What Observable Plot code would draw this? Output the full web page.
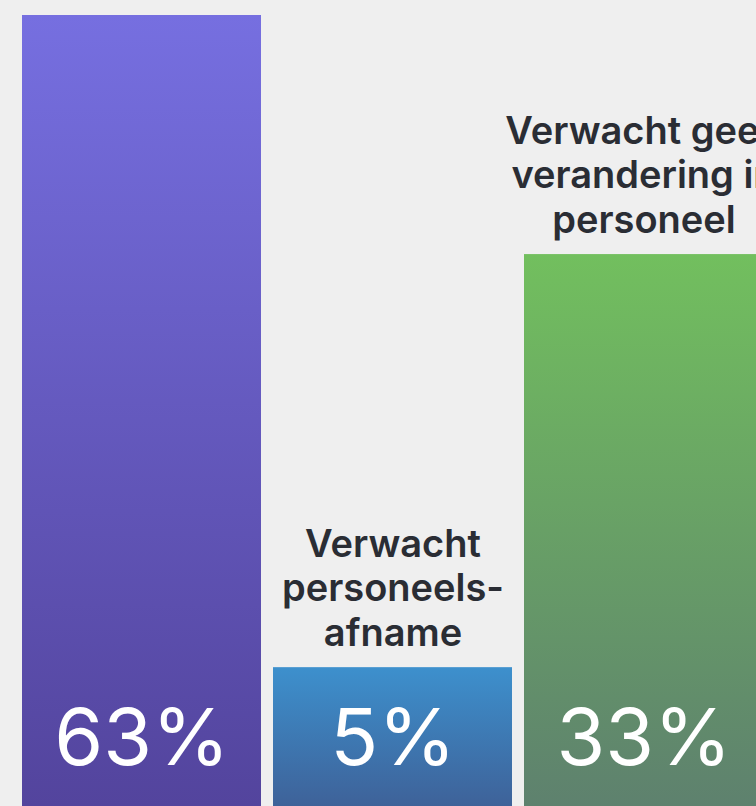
<!DOCTYPE html>
<html>
<head>
<meta charset="utf-8">
<script src="https://cdn.jsdelivr.net/npm/d3@7"></script>
<script src="https://cdn.jsdelivr.net/npm/@observablehq/plot@0.6"></script>
<style>
  html, body { margin: 0; padding: 0; background: #efefef; overflow: hidden; }
  #chart svg { display: block; }
</style>
</head>
<body>
<div id="chart"></div>
<script>
const categories = ["Verwacht personeelsgroei", "Verwacht personeelsafname", "Verwacht geen verandering in personeel"];
const labels = ["Verwacht\npersoneels-\ngroei", "Verwacht\npersoneels-\nafname", "Verwacht geen\nverandering in\npersoneel"];
const values = [63, 5, 33];
const topColors = ["#766fe0", "#3d90cd", "#72bf5e"];
const bottomColors = ["#53449d", "#3e6299", "#5e816e"];

const W = 756, H = 806;
const data = categories.map((c, i) => ({category: c, label: labels[i], value: values[i], idx: i}));

const yOpts = {type: "pow", exponent: 0.433, domain: [0, d3.max(values)], range: [994, 15]};
const xOpts = {domain: categories, range: [21, 763], paddingInner: 12 / 251, paddingOuter: 0, axis: null};
const yScale = Plot.scale({y: yOpts});

const labelFont = 38, labelLine = 1.17;
// only labels that fit above their bar inside the picture
const labelData = data.filter(d => yScale.apply(d.value) - 24 - 3 * labelFont * labelLine > 0);

const barMarks = data.map((d, i) =>
  Plot.barY([d], {x: "category", y1: 0, y2: "value", fill: `url(#grad${i})`, clip: true})
);

const chart = Plot.plot({
  width: W,
  height: H,
  marginTop: 0, marginRight: 0, marginBottom: 0, marginLeft: 0,
  style: {background: "transparent", overflow: "hidden"},
  x: xOpts,
  y: {...yOpts, axis: null},
  marks: [
    ...barMarks,
    Plot.text(data, {
      x: "category",
      text: d => `${d.value}%`,
      frameAnchor: "bottom",
      lineAnchor: "bottom",
      dy: -42,
      fill: "white",
      fontSize: 79,
      fontWeight: 400,
      fontFamily: "Inter"
    }),
    Plot.text(labelData, {
      x: "category",
      y: "value",
      text: "label",
      lineAnchor: "bottom",
      lineHeight: labelLine,
      dy: -22,
      fill: "#2a2d34",
      fontSize: labelFont,
      fontWeight: 600,
      fontFamily: "Inter"
    })
  ]
});

const svg = d3.select(chart);
const defs = svg.insert("defs", ":first-child");
data.forEach((d, i) => {
  const g = defs.append("linearGradient")
    .attr("id", `grad${i}`)
    .attr("gradientUnits", "userSpaceOnUse")
    .attr("x1", 0).attr("x2", 0)
    .attr("y1", yScale.apply(d.value))
    .attr("y2", H);
  g.append("stop").attr("offset", 0).attr("stop-color", topColors[i]);
  g.append("stop").attr("offset", 1).attr("stop-color", bottomColors[i]);
});

document.getElementById("chart").appendChild(chart);
</script>
</body>
</html>
